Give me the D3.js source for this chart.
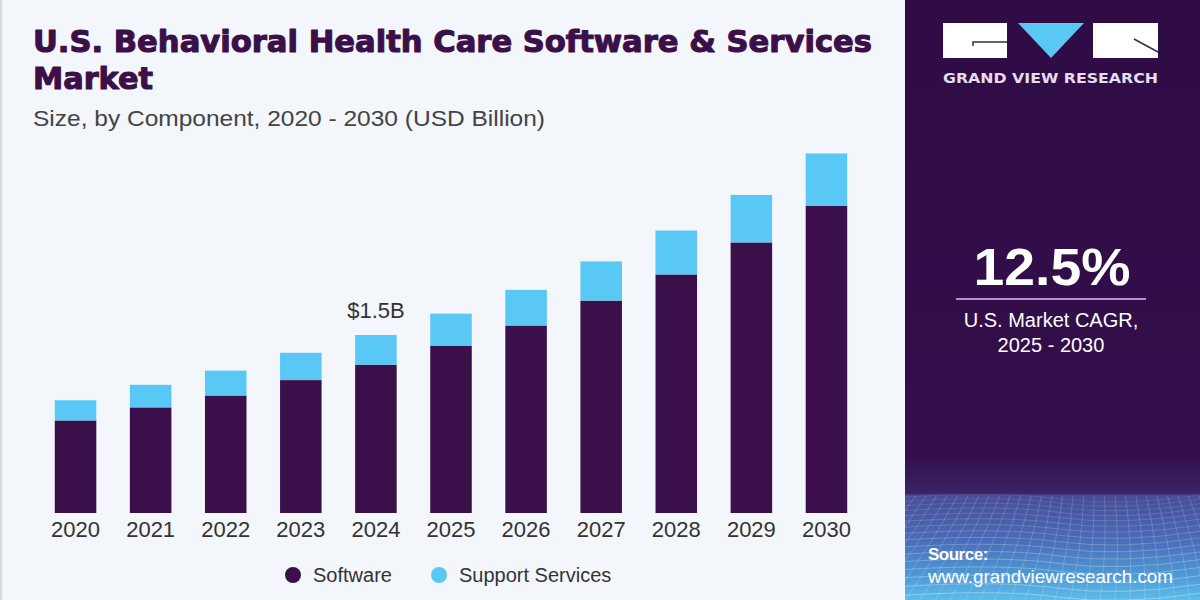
<!DOCTYPE html>
<html>
<head>
<meta charset="utf-8">
<script src="https://cdn.jsdelivr.net/npm/d3@7"></script>
<style>
  html, body { margin: 0; padding: 0; background: #f3f6fa; }
  svg { display: block; }
</style>
</head>
<body>
<svg id="chart" width="1200" height="600"></svg>
<script>
// ---- data ----
const years = ["2020","2021","2022","2023","2024","2025","2026","2027","2028","2029","2030"];
const software = [0.78, 0.89, 0.99, 1.12, 1.25, 1.41, 1.58, 1.79, 2.01, 2.28, 2.59];
const supportServices = [0.17, 0.19, 0.21, 0.23, 0.25, 0.27, 0.30, 0.33, 0.37, 0.40, 0.44];
const seriesNames = ["Software", "Support Services"];
const seriesColors = ["#3a0f4a", "#5ac8f5"];
const titleLines = ["U.S. Behavioral Health Care Software & Services", "Market"];
const subtitle = "Size, by Component, 2020 - 2030 (USD Billion)";
const annotation = { year: "2024", text: "$1.5B" };
const cagrValue = "12.5%";
const cagrLines = ["U.S. Market CAGR,", "2025 - 2030"];

const svg = d3.select("#chart");
const W = 1200, H = 600;

// background
svg.append("rect").attr("x",0).attr("y",0).attr("width",905).attr("height",H).attr("fill","#f3f6fa");
svg.append("rect").attr("x",0).attr("y",0).attr("width",2).attr("height",H).attr("fill","#d6d9de");

// ---- right panel ----
const defs = svg.append("defs");
const grad = defs.append("linearGradient").attr("id","panelGrad").attr("x1",0).attr("y1",0).attr("x2",0).attr("y2",1);
grad.append("stop").attr("offset","0").attr("stop-color","#300c46");
grad.append("stop").attr("offset","0.76").attr("stop-color","#330f4b");
grad.append("stop").attr("offset","0.822").attr("stop-color","#3a2465");
grad.append("stop").attr("offset","0.826").attr("stop-color","#484c96");
grad.append("stop").attr("offset","0.9").attr("stop-color","#4a6cb8");
grad.append("stop").attr("offset","0.96").attr("stop-color","#4f9ad6");
grad.append("stop").attr("offset","1").attr("stop-color","#5cbcea");
svg.append("rect").attr("x",905).attr("y",0).attr("width",295).attr("height",H).attr("fill","url(#panelGrad)");

// mesh decoration
const mesh = svg.append("g").attr("stroke","#ffffff").attr("fill","none");
for (let i = 0; i < 18; i++) {
  const y = 497 + i * 4 + i * i * 0.17;
  mesh.append("path")
    .attr("d", `M905,${y} Q1000,${y - 6} 1060,${y + 2} T1200,${y - 2}`)
    .attr("stroke-opacity", Math.min(0.4, 0.1 + i * 0.02)).attr("stroke-width",0.8);
}
for (let j = 0; j < 30; j++) {
  const xt = 905 + j * 10.5;
  const xb = 905 + (j - 6) * 15;
  mesh.append("path")
    .attr("d", `M${xt},496 Q${(xt+xb)/2 + 5},550 ${xb},600`)
    .attr("stroke-opacity", 0.22).attr("stroke-width",0.8);
}

// logo
const logo = svg.append("g");
logo.append("rect").attr("x",943).attr("y",23).attr("width",64).attr("height",35).attr("fill","#ffffff");
logo.append("path").attr("d","M973,46 L973,42 L1007,42").attr("stroke","#3a2a4a").attr("stroke-width",1.5).attr("fill","none");
logo.append("path").attr("d","M1018,23 L1084,23 L1051,58 Z").attr("fill","#5ac8f5");
logo.append("rect").attr("x",1093).attr("y",23).attr("width",65).attr("height",35).attr("fill","#ffffff");
logo.append("path").attr("d","M1134,39 L1158,52").attr("stroke","#3a2a4a").attr("stroke-width",1.5);
svg.append("text").attr("x",943).attr("y",83)
  .attr("font-family","'DejaVu Sans', sans-serif").attr("font-weight",700)
  .attr("font-size",14).attr("textLength",215).attr("lengthAdjust","spacingAndGlyphs").attr("fill","#e4dcef")
  .text("GRAND VIEW RESEARCH");

// CAGR
svg.append("text").attr("x",1052).attr("y",285).attr("text-anchor","middle")
  .attr("font-family","'Liberation Sans', Arial, sans-serif").attr("font-weight",700)
  .attr("font-size",52).attr("textLength",157).attr("lengthAdjust","spacingAndGlyphs")
  .attr("fill","#ffffff").text(cagrValue);
svg.append("line").attr("x1",956).attr("x2",1146).attr("y1",299).attr("y2",299)
  .attr("stroke","#b58fd3").attr("stroke-width",2);
cagrLines.forEach((t,i) => {
  svg.append("text").attr("x",1051).attr("y",327 + i*25).attr("text-anchor","middle")
    .attr("font-family","'Liberation Sans', Arial, sans-serif")
    .attr("font-size",20).attr("fill","#ffffff").text(t);
});

// source
svg.append("text").attr("x",928).attr("y",560)
  .attr("font-family","'Liberation Sans', Arial, sans-serif").attr("font-weight",700)
  .attr("font-size",17).attr("letter-spacing",-0.5).attr("fill","#ffffff").text("Source:");
svg.append("text").attr("x",928).attr("y",583)
  .attr("font-family","'Liberation Sans', Arial, sans-serif")
  .attr("font-size",19).attr("textLength",245).attr("lengthAdjust","spacingAndGlyphs")
  .attr("fill","#ffffff").text("www.grandviewresearch.com");

// ---- titles ----
const titleLens = [839, 120];
titleLines.forEach((t,i) => {
  svg.append("text").attr("x",33).attr("y",52 + i*37)
    .attr("font-family","'DejaVu Sans', sans-serif").attr("font-weight",700)
    .attr("font-size",30).attr("textLength",titleLens[i]).attr("lengthAdjust","spacingAndGlyphs")
    .attr("fill","#3b1048").attr("stroke","#3b1048").attr("stroke-width",1.1)
    .attr("stroke-linejoin","round").text(t);
});
svg.append("text").attr("x",33).attr("y",126)
  .attr("font-family","'Liberation Sans', Arial, sans-serif")
  .attr("font-size",21.5).attr("textLength",512).attr("lengthAdjust","spacingAndGlyphs")
  .attr("fill","#444444").text(subtitle);

// ---- chart ----
const x = d3.scaleBand().domain(years).range([38, 864]).paddingInner(0.447).paddingOuter(0.2235);
const y = d3.scaleLinear().domain([0, 1.5]).range([513, 335]);

const data = years.map((yr,i) => ({year: yr, Software: software[i], "Support Services": supportServices[i]}));
const stacked = d3.stack().keys(seriesNames)(data);

const g = svg.append("g");
stacked.forEach((layer, li) => {
  g.selectAll(null).data(layer).enter().append("rect")
    .attr("x", d => x(d.data.year))
    .attr("width", x.bandwidth())
    .attr("y", d => y(d[1]))
    .attr("height", d => y(d[0]) - y(d[1]))
    .attr("fill", seriesColors[li]);
});

// x axis
const xAxis = d3.axisBottom(x).tickSize(0).tickPadding(8);
const ax = svg.append("g").attr("transform","translate(0,513)").call(xAxis);
ax.select(".domain").remove();
ax.selectAll("text").attr("font-family","'Liberation Sans', Arial, sans-serif")
  .attr("font-size",22).attr("fill","#333333").attr("dy","0.71em");

// annotation
const ai = years.indexOf(annotation.year);
svg.append("text").attr("x", x(annotation.year) + x.bandwidth()/2).attr("y", y(software[ai] + supportServices[ai]) - 17)
  .attr("text-anchor","middle").attr("font-family","'Liberation Sans', Arial, sans-serif")
  .attr("font-size",22).attr("fill","#333333").text(annotation.text);

// legend
const legendX = [293, 439];
seriesNames.forEach((n,i) => {
  svg.append("circle").attr("cx",legendX[i]).attr("cy",575).attr("r",8).attr("fill",seriesColors[i]);
  svg.append("text").attr("x",legendX[i] + 20).attr("y",582)
    .attr("font-family","'Liberation Sans', Arial, sans-serif")
    .attr("font-size",20).attr("fill","#333333").text(n);
});
</script>
</body>
</html>
